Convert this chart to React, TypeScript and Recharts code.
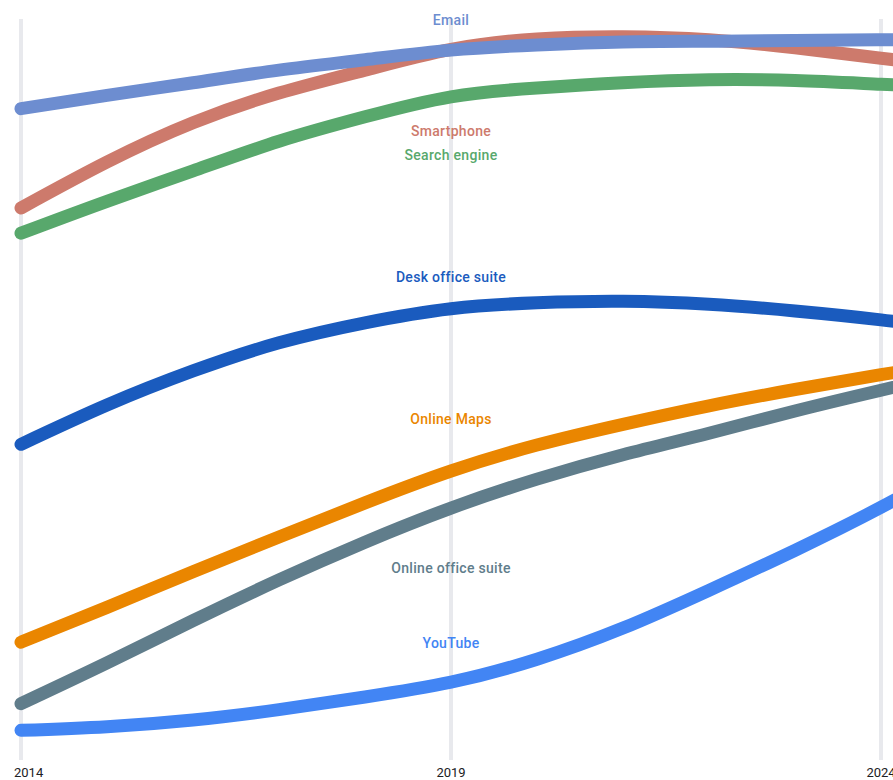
import React from "react";
import { LineChart, Line, XAxis, YAxis, ReferenceLine, ReferenceDot } from "recharts";

const years = [2014, 2015, 2016, 2017, 2018, 2019, 2020, 2021, 2022, 2023, 2024, 2025];
const tickYears = [2014, 2019, 2024];

const email = [87.9, 89.7, 91.4, 93.1, 94.5, 95.8, 96.5, 96.9, 97.0, 97.1, 97.2, 97.2];
const smartphone = [74.5, 80.7, 86.0, 90.0, 93.1, 95.9, 97.3, 97.6, 97.2, 96.1, 94.7, 93.4];
const searchEngine = [71.1, 75.4, 79.5, 83.5, 86.8, 89.5, 90.7, 91.4, 91.8, 91.7, 91.2, 90.7];
const deskOffice = [42.6, 47.9, 52.5, 56.3, 59.0, 60.9, 61.7, 61.9, 61.5, 60.6, 59.4, 57.9];
const onlineMaps = [15.9, 20.6, 25.4, 30.1, 34.7, 39.0, 42.5, 45.3, 47.8, 50.0, 52.0, 53.9];
const onlineOffice = [7.6, 13.1, 18.8, 24.3, 29.4, 34.0, 37.9, 41.2, 44.1, 47.1, 49.9, 52.6];
const youtube = [4.0, 4.5, 5.4, 6.8, 8.5, 10.5, 13.6, 17.8, 22.9, 28.3, 34.1, 40.5];

// label anchor values (at 2019)
const labelYear = 2019;
const labelValues = {
  email: 99.9,
  smartphone: 84.9,
  searchEngine: 81.6,
  deskOffice: 65.2,
  onlineMaps: 46.0,
  onlineOffice: 25.9,
  youtube: 15.8,
};

const series = [
  { key: "youtube", name: "YouTube", color: "#4285f4", values: youtube },
  { key: "onlineOffice", name: "Online office suite", color: "#607d8b", values: onlineOffice },
  { key: "onlineMaps", name: "Online Maps", color: "#ea8600", values: onlineMaps },
  { key: "deskOffice", name: "Desk office suite", color: "#1a5bbe", values: deskOffice },
  { key: "searchEngine", name: "Search engine", color: "#58a86c", values: searchEngine },
  { key: "smartphone", name: "Smartphone", color: "#cd7a6c", values: smartphone },
  { key: "email", name: "Email", color: "#6d8dd0", values: email },
];

const data = years.map((y, i) => {
  const row: any = { year: y };
  series.forEach((s) => {
    row[s.key] = s.values[i];
  });
  return row;
});

const FONT = "Roboto, 'Noto Sans', sans-serif";

const Tick = (props: any) => {
  const { x, y, payload, index } = props;
  const first = index === 0;
  return (
    <text
      x={first ? x - 7 : x}
      y={y}
      dy={17}
      textAnchor={first ? "start" : "middle"}
      fill="#202124"
      fontSize={13}
      fontFamily={FONT}
    >
      {payload.value}
    </text>
  );
};

export default function App() {
  return (
    <div style={{ position: "fixed", left: 0, top: 0, width: 893, height: 780, overflow: "hidden", background: "#fff" }}>
      <LineChart
        width={1000}
        height={780}
        data={data}
        margin={{ top: 19, right: 0, bottom: 0, left: 0 }}
      >
        <XAxis
          dataKey="year"
          type="number"
          domain={[2014 - 21 / 86, 2014 + (1000 - 21) / 86]}
          ticks={tickYears}
          axisLine={false}
          tickLine={false}
          tickSize={0}
          tickMargin={0}
          height={20}
          tick={<Tick />}
          interval={0}
        />
        <YAxis hide domain={[0, 100]} />
        {tickYears.map((t) => (
          <ReferenceLine key={"g" + t} x={t} stroke="#e8e9ed" strokeWidth={4} />
        ))}
        {series.map((s) => (
          <Line
            key={s.key}
            dataKey={s.key}
            name={s.name}
            type="natural"
            stroke={s.color}
            strokeWidth={13}
            strokeLinecap="round"
            strokeLinejoin="round"
            dot={false}
            activeDot={false}
            isAnimationActive={false}
          />
        ))}
        {series.map((s) => (
          <ReferenceDot
            key={"lbl-" + s.key}
            x={labelYear}
            y={(labelValues as any)[s.key]}
            r={0}
            fill="none"
            stroke="none"
            label={{
              value: s.name,
              position: "center",
              fill: s.color,
              fontSize: 14,
              fontWeight: 500,
              letterSpacing: 0.3,
              fontFamily: FONT,
            }}
          />
        ))}
      </LineChart>
    </div>
  );
}
